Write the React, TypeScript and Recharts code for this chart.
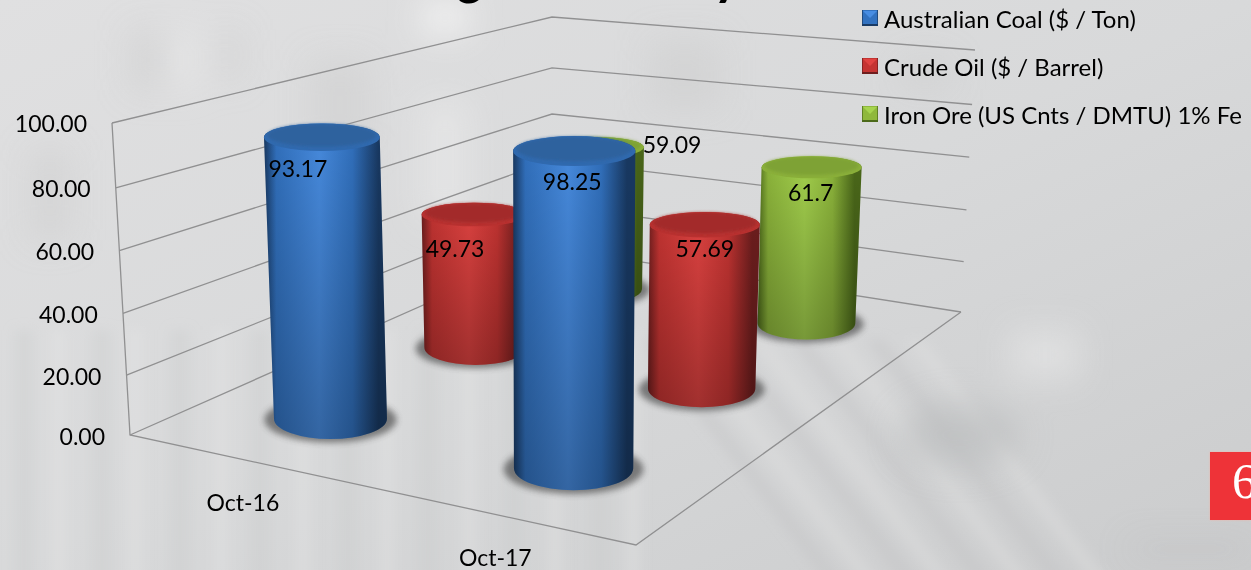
import { Bar, BarChart, Customized, LabelList, Legend, XAxis, YAxis } from 'recharts';

const CATEGORIES = ['Oct-16', 'Oct-17'];
const COAL = [93.17, 98.25];
const OIL = [49.73, 57.69];
const IRON = [59.09, 61.7];
const Y_TICKS = [0, 20, 40, 60, 80, 100];

const data = CATEGORIES.map((month, i) => ({ month, coal: COAL[i], oil: OIL[i], iron: IRON[i] }));

const W = 1251;
const H = 570;
const PLOT = { left: 100, top: 123, width: 900, height: 313 };
const FONT = 'Lato, sans-serif';
const LINE = '#909091';

// floor of the 3D box on screen: front-left, front-right, back-right, back-left
const A = [130, 435];
const B = [636, 545];
const C = [961, 312];
const D = [552, 248];
// same corners of the box at the value 100
const A_TOP = [112, 123];
const C_TOP = [975, 50];
const D_TOP = [552, 17];
const VANISH = [558, 7855];
// gridlines are a touch unevenly spaced in the picture
const WALL_T = [0, 0.192, 0.39, 0.591, 0.792, 1];
const CORNER_T = [0, 0.186, 0.38, 0.58, 0.78, 1];

const den = (B[0] - C[0]) * (D[1] - C[1]) - (D[0] - C[0]) * (B[1] - C[1]);
const sx = A[0] - B[0] + C[0] - D[0];
const sy = A[1] - B[1] + C[1] - D[1];
const hg = (sx * (D[1] - C[1]) - (D[0] - C[0]) * sy) / den;
const hh = ((B[0] - C[0]) * sy - sx * (B[1] - C[1])) / den;

const floorPoint = (u: number, v: number) => {
  const w = hg * u + hh * v + 1;
  const x = (B[0] - A[0] + hg * B[0]) * u + (D[0] - A[0] + hh * D[0]) * v + A[0];
  const y = (B[1] - A[1] + hg * B[1]) * u + (D[1] - A[1] + hh * D[1]) * v + A[1];
  return { x: x / w, y: y / w, s: 1 / w };
};

const lerp = (p: number[], q: number[], t: number) => [p[0] + (q[0] - p[0]) * t, p[1] + (q[1] - p[1]) * t];

// turns the flat bar rectangle from the library into a standing cylinder
const cylinder = ({ x, width, height }: any) => {
  const t = ((x + width / 2 - PLOT.left) / PLOT.width) * 2;
  const band = Math.floor(t);
  const u = (band + 0.5) / 2;
  const v = 1 - (t - band);
  const base = floorPoint(u, v);
  const px = (height / PLOT.height) * 100 * 3.12 * Math.pow(base.s, 1.22);
  const topX = base.x + ((base.x - VANISH[0]) * px) / (VANISH[1] - base.y);
  const r = 58 * base.s;
  const tilt = 0.37 - (1.03 - base.s) * 0.2;
  return { bx: base.x, by: base.y, tx: topX, ty: base.y - px, rb: r, rt: r * 1.025, ryb: r * tilt, ryt: r * tilt * 0.68 };
};

const makeShape = (key: string, cap: string, rim: string) => (props: any) => {
  const { bx, by, tx, ty, rb, rt, ryb, ryt } = cylinder(props);
  const body = `M${tx - rt},${ty} L${bx - rb},${by} A${rb},${ryb} 0 0 0 ${bx + rb},${by} L${tx + rt},${ty} A${rt},${ryt} 0 0 0 ${tx - rt},${ty} Z`;
  return (
    <g>
      <ellipse cx={bx} cy={by + 1} rx={rb * 1.17} ry={ryb * 1.12} fill="#3c3c3c" opacity={0.62} filter="url(#cylShadow)" />
      <path d={body} fill={`url(#side-${key})`} />
      <path d={body} fill="url(#sideShade)" />
      <ellipse cx={tx} cy={ty} rx={rt} ry={ryt} fill={rim} />
      <ellipse cx={tx} cy={ty - ryt * 0.14} rx={rt * 0.94} ry={ryt * 0.82} fill={cap} filter="url(#capSoft)" />
    </g>
  );
};

// where each value label sits relative to the centre of its cylinder top
const LABEL_NUDGE: Record<string, number[][]> = {
  coal: [[-24, 31], [-2, 30]],
  oil: [[-19, 33], [0, 23]],
  iron: [[76, -3], [-1, 25]],
};

const makeLabel = (key: string) => (props: any) => {
  const box = props.viewBox ?? props;
  const { tx, ty } = cylinder(box);
  const n = LABEL_NUDGE[key][props.index];
  return (
    <text x={tx + n[0]} y={ty + n[1]} textAnchor="middle" dominantBaseline="central" fontSize={23} fontFamily={FONT} fill="#000">
      {props.value}
    </text>
  );
};

const SERIES = [
  { key: 'iron', name: 'Iron Ore (US Cnts / DMTU) 1% Fe', color: '#8fb83c', edge: '#4c6a1a', light: '#a6d44e', cap: '#7ea234', rim: '#8aaf3a' },
  { key: 'oil', name: 'Crude Oil ($ / Barrel)', color: '#c43432', edge: '#6e1e1e', light: '#e04341', cap: '#a32c2a', rim: '#b83130' },
  { key: 'coal', name: 'Australian Coal ($ / Ton)', color: '#3272c0', edge: '#193a64', light: '#488de2', cap: '#2d629e', rim: '#3069ae' },
];

const Walls = () => {
  const lines = WALL_T.map((t, i) => {
    const p = lerp(A, A_TOP, t);
    const q = lerp(D, D_TOP, CORNER_T[i]);
    const r = lerp(C, C_TOP, t);
    return <polyline key={i} points={`${p} ${q} ${r}`} fill="none" stroke={LINE} strokeWidth={1.3} />;
  });
  return (
    <g>
      {lines}
      <polyline points={`${A_TOP} ${A} ${B} ${C}`} fill="none" stroke={LINE} strokeWidth={1.3} />
    </g>
  );
};

const YTick = ({ y, payload, index }: any) => {
  const t = payload.value / 100;
  const wall = lerp(A, A_TOP, t);
  return (
    <text x={wall[0] - 25} y={y - PLOT.height * (WALL_T[index] - t)} textAnchor="end" dominantBaseline="central" fontSize={23} fontFamily={FONT} fill="#000">
      {payload.value.toFixed(2)}
    </text>
  );
};

const XTick = ({ x, payload }: any) => {
  const p = floorPoint((x - PLOT.left) / PLOT.width, 0);
  return (
    <text x={p.x - 3} y={p.y + 42} textAnchor="middle" dominantBaseline="central" fontSize={23} fontFamily={FONT} fill="#000">
      {payload.value}
    </text>
  );
};

const LegendIcon = ({ s }: any) => (
  <svg width={16} height={16} style={{ display: 'block', flex: 'none' }}>
    <rect width={16} height={16} fill={s.color} />
    <polygon points="1,1 15,1 8,8" fill={s.light} />
    <rect y={14} width={16} height={2} fill={s.edge} />
    <rect width={1} height={16} fill={s.edge} opacity={0.7} />
    <rect x={15} width={1} height={16} fill={s.edge} opacity={0.7} />
  </svg>
);

const LegendBox = () => (
  <div>
    {[...SERIES].reverse().map((s) => (
      <div key={s.key} style={{ display: 'flex', alignItems: 'center', height: 48, gap: 6, whiteSpace: 'nowrap', fontFamily: FONT, fontSize: 24, color: '#000' }}>
        <LegendIcon s={s} />
        <span>{s.name}</span>
      </div>
    ))}
  </div>
);

// blurred photo behind the slide
const V_STRIPES = [14, 52, 92, 128, 170, 214, 250, 296, 338, 380, 418, 462, 504, 548, 590, 626];
const D_STRIPES = [640, 676, 716, 750, 790, 828, 866, 906];
const U_BLOCKS = [
  [130, 30, 36, 60], [170, 30, 28, 60], [220, 30, 20, 50], [310, 60, 60, 90], [420, 100, 50, 120], [650, 40, 70, 70],
  [30, 150, 40, 90], [1010, 330, 70, 50], [900, 60, 50, 30],
];

const Backdrop = () => (
  <svg width={W} height={H} style={{ position: 'absolute', left: 0, top: 0 }}>
    <defs>
      <linearGradient id="bgBase" x1="0" y1="0" x2="1" y2="1">
        <stop offset="0" stopColor="#e0e0e1" />
        <stop offset="0.5" stopColor="#d8d9da" />
        <stop offset="1" stopColor="#cbcccd" />
      </linearGradient>
      <filter id="bgBlur" x="-20%" y="-20%" width="140%" height="140%">
        <feGaussianBlur stdDeviation="6" />
      </filter>
      <filter id="bgBlurWide" x="-30%" y="-30%" width="160%" height="160%">
        <feGaussianBlur stdDeviation="16" />
      </filter>
    </defs>
    <rect width={W} height={H} fill="url(#bgBase)" />
    <g filter="url(#bgBlur)">
      {V_STRIPES.map((x, i) => (
        <rect key={x} x={x} y={330} width={i % 2 ? 14 : 20} height={260} fill={i % 2 ? '#e8e8e8' : '#c8c9cb'} opacity={0.3} />
      ))}
      {D_STRIPES.map((x, i) => (
        <polygon key={x} points={`${x},340 ${x + 18},340 ${x + 210},590 ${x + 192},590`} fill={i % 2 ? '#e2e2e3' : '#c0c1c3'} opacity={0.35} />
      ))}
    </g>
    <g filter="url(#bgBlurWide)">
      {U_BLOCKS.map((b, i) => (
        <rect key={i} x={b[0]} y={b[1]} width={b[2]} height={b[3]} fill={i % 3 === 1 ? '#eeeeee' : '#cbcccd'} opacity={0.45} />
      ))}
      <ellipse cx={960} cy={435} rx={60} ry={32} fill="#b9babc" opacity={0.6} />
      <rect x={420} y={0} width={50} height={36} fill="#f2f2f2" opacity={0.8} />
      <rect x={1130} y={545} width={121} height={8} fill="#b5b6b8" opacity={0.6} />
    </g>
  </svg>
);

export default function App() {
  return (
    <div style={{ position: 'absolute', left: 0, top: 0, width: W, height: H, overflow: 'hidden' }}>
      <Backdrop />
      <div style={{ position: 'absolute', left: 0, top: 0 }}>
        <BarChart
          width={W}
          height={H}
          data={data}
          barCategoryGap={0}
          barGap={0}
          margin={{ top: PLOT.top, right: W - PLOT.left - PLOT.width, bottom: H - PLOT.top - PLOT.height - 30, left: 0 }}
        >
          <defs>
            {SERIES.map((s) => (
              <linearGradient key={s.key} id={`side-${s.key}`} x1="0" y1="0" x2="1" y2="0">
                <stop offset="0" stopColor={s.edge} />
                <stop offset="0.1" stopColor={s.color} />
                <stop offset="0.45" stopColor={s.light} />
                <stop offset="0.72" stopColor={s.color} />
                <stop offset="0.93" stopColor={s.edge} />
                <stop offset="1" stopColor={s.edge} />
              </linearGradient>
            ))}
            <linearGradient id="sideShade" x1="0" y1="0" x2="0" y2="1">
              <stop offset="0" stopColor="#000" stopOpacity={0.02} />
              <stop offset="1" stopColor="#000" stopOpacity={0.28} />
            </linearGradient>
            <filter id="cylShadow" x="-30%" y="-50%" width="160%" height="200%">
              <feGaussianBlur stdDeviation="3" />
            </filter>
            <filter id="capSoft" x="-10%" y="-20%" width="120%" height="140%">
              <feGaussianBlur stdDeviation="1.5" />
            </filter>
          </defs>
          <Customized component={Walls} />
          <XAxis dataKey="month" height={30} axisLine={false} tickLine={false} tick={XTick} interval={0} />
          <YAxis width={PLOT.left} domain={[0, 100]} ticks={Y_TICKS} axisLine={false} tickLine={false} tick={YTick} interval={0} />
          {SERIES.map((s) => (
            <Bar key={s.key} dataKey={s.key} name={s.name} fill={s.color} isAnimationActive={false} shape={makeShape(s.key, s.cap, s.rim)}>
              <LabelList dataKey={s.key} content={makeLabel(s.key)} />
            </Bar>
          ))}
          <Legend
            layout="vertical"
            align="center"
            verticalAlign="middle"
            content={LegendBox}
            wrapperStyle={{ left: 862, top: -6, width: 389 }}
          />
        </BarChart>
      </div>
      {/* title is cut by the top edge of the slide */}
      <div style={{ position: 'absolute', left: 355, top: -51, fontFamily: FONT, fontWeight: 900, fontSize: 47, lineHeight: '56px', color: '#000', whiteSpace: 'nowrap' }}>
        Rising Commodity
      </div>
      <div style={{ position: 'absolute', left: 1210, top: 452, width: 41, height: 68, background: '#ee3338', boxShadow: '0 0 2px #f0b3a8', overflow: 'hidden', color: '#fff', fontFamily: '"Liberation Serif", serif', fontSize: 50, lineHeight: '58px', paddingLeft: 22, boxSizing: 'border-box' }}>
        6
      </div>
    </div>
  );
}
